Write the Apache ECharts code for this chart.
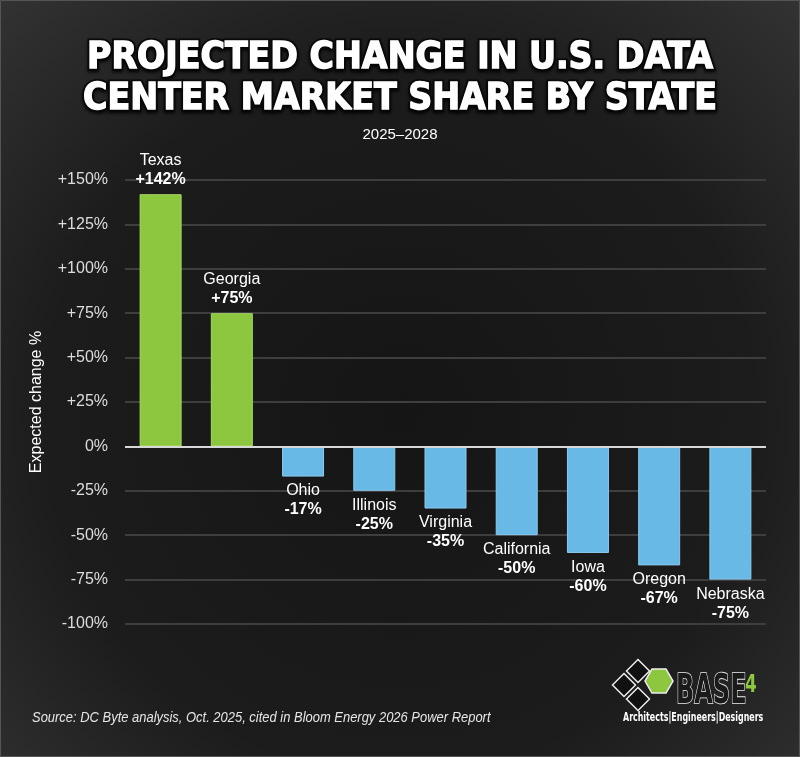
<!DOCTYPE html>
<html>
<head>
<meta charset="utf-8">
<script src="https://cdn.jsdelivr.net/npm/echarts@6/dist/echarts.min.js"></script>
<style>html,body{margin:0;padding:0;background:#1a1a1a;}#c{width:800px;height:757px;}</style>
</head>
<body>
<div id="c"></div>
<script>
const states = ['Texas','Georgia','Ohio','Illinois','Virginia','California','Iowa','Oregon','Nebraska'];
const changes = [142, 75, -17, -25, -35, -50, -60, -67, -75];
const yTicks = [-100, -75, -50, -25, 0, 25, 50, 75, 100, 125, 150];
const titleText = 'PROJECTED CHANGE IN U.S. DATA\nCENTER MARKET SHARE BY STATE';
const subtitleText = '2025–2028';
const yAxisName = 'Expected change %';
const sourceText = 'Source: DC Byte analysis, Oct. 2025, cited in Bloom Energy 2026 Power Report';

const GREEN = '#8dc63f', BLUE = '#68b9e5';
const chart = echarts.init(document.getElementById('c'), null, {renderer: 'canvas'});

function fmtTick(v){ return v > 0 ? '+' + v + '%' : v + '%'; }

const diamond = (cx, cy, h) => [[cx - h, cy], [cx, cy - h], [cx + h, cy], [cx, cy + h]];
const hexagon = (cx, cy, r) => { const p = []; for (let i = 0; i < 6; i++) { const a = Math.PI / 180 * (60 * i); p.push([cx + r * Math.cos(a), cy + r * Math.sin(a)]); } return p; };

const titleBase = {color: '#ffffff', fontFamily: 'DejaVu Sans Condensed', fontWeight: 'bold', fontSize: 37, lineHeight: 41};

chart.setOption({
  backgroundColor: {
    type: 'radial', x: 0.5, y: 0.55, r: 0.78,
    colorStops: [{offset: 0, color: '#151515'}, {offset: 0.6, color: '#1c1c1c'}, {offset: 1, color: '#343434'}]
  },
  title: [{
    text: titleText, left: 'center', top: 33,
    textStyle: Object.assign({}, titleBase, {textBorderColor: '#0a0a0a', textBorderWidth: 5, textShadowColor: 'rgba(0,0,0,0.7)', textShadowBlur: 3, textShadowOffsetY: 2})
  }, {
    text: titleText, left: 'center', top: 33,
    textStyle: Object.assign({}, titleBase, {textBorderColor: '#ffffff', textBorderWidth: 1.3})
  }, {
    text: subtitleText, left: 'center', top: 122,
    textStyle: {color: '#ffffff', fontFamily: 'Liberation Sans', fontWeight: 'normal', fontSize: 15}
  }],
  grid: {left: 125, right: 34, top: 180, bottom: 133, containLabel: false},
  xAxis: {
    type: 'category', data: states,
    axisLine: {show: false}, axisTick: {show: false}, axisLabel: {show: false}, splitLine: {show: false}
  },
  yAxis: {
    type: 'value', min: -100, max: 150, interval: 25,
    name: yAxisName, nameLocation: 'middle', nameGap: 80, nameRotate: 90,
    nameTextStyle: {color: '#ffffff', fontSize: 16, fontFamily: 'Liberation Sans'},
    axisLine: {show: false}, axisTick: {show: false},
    axisLabel: {color: '#dddddd', fontSize: 16, fontFamily: 'Liberation Sans', margin: 17,
      formatter: v => yTicks.includes(v) ? fmtTick(v) : ''},
    splitLine: {lineStyle: {color: '#3e3e3e', width: 2}}
  },
  series: [{
    type: 'bar', barWidth: 42,
    data: changes.map(v => ({
      value: v,
      itemStyle: {color: v >= 0 ? GREEN : BLUE, borderColor: v >= 0 ? '#a6d862' : '#8ccaee', borderWidth: 1},
      label: {position: v >= 0 ? 'top' : 'bottom'}
    })),
    label: {
      show: true, distance: 5,
      formatter: p => '{n|' + p.name + '}\n{v|' + (p.value > 0 ? '+' : '') + p.value + '%}',
      rich: {
        n: {color: '#ffffff', fontSize: 16, fontFamily: 'Liberation Sans', lineHeight: 19},
        v: {color: '#ffffff', fontSize: 16, fontWeight: 'bold', fontFamily: 'Liberation Sans', lineHeight: 19}
      }
    },
    markLine: {
      symbol: 'none', silent: true, label: {show: false},
      lineStyle: {color: '#d8d8d8', width: 2, type: 'solid'},
      data: [{yAxis: 0}]
    },
    z: 3
  }],
  graphic: [
    {type: 'rect', shape: {x: 0.5, y: 0.5, width: 799, height: 756}, style: {fill: 'none', stroke: '#555', lineWidth: 1}, silent: true},
    {type: 'text', x: 32, y: 711, scaleX: 0.925, style: {text: sourceText, fill: '#e6e6e6', font: 'italic 14px "Liberation Sans"'}},
    {type: 'polygon', shape: {points: diamond(624, 685, 11.5)}, style: {fill: '#111', stroke: '#eee', lineWidth: 1.5}},
    {type: 'polygon', shape: {points: diamond(638, 671, 11.5)}, style: {fill: '#111', stroke: '#eee', lineWidth: 1.5}},
    {type: 'polygon', shape: {points: diamond(638, 699, 11.5)}, style: {fill: '#111', stroke: '#eee', lineWidth: 1.5}},
    {type: 'polygon', shape: {points: hexagon(659, 681, 14)}, style: {fill: GREEN, stroke: '#eee', lineWidth: 1.5}},
    {type: 'text', x: 676, y: 673, scaleX: 0.6, style: {text: 'BASE', fill: '#1a1a1a', stroke: '#eeeeee', lineWidth: 1.6, font: 'bold 40px "DejaVu Sans"'}},
    {type: 'text', x: 745, y: 674, scaleX: 0.7, style: {text: '4', fill: GREEN, font: 'bold 24px "DejaVu Sans"'}},
    {type: 'text', x: 623, y: 712, scaleX: 0.66, style: {text: 'Architects|Engineers|Designers', fill: '#ffffff', font: 'bold 12px "DejaVu Sans"'}}
  ]
});
</script>
</body>
</html>
